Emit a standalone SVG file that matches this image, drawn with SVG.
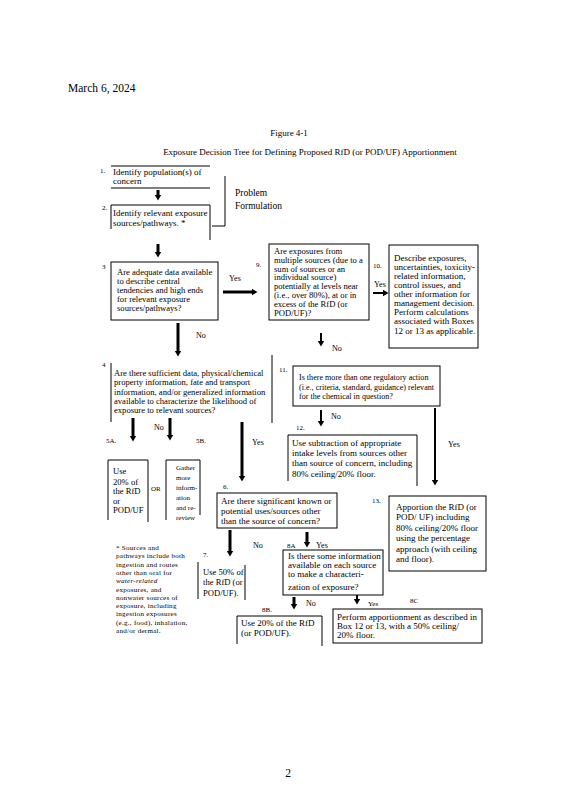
<svg xmlns="http://www.w3.org/2000/svg" width="566" height="800" viewBox="0 0 566 800">
<style>
text{font-family:"Liberation Serif","Times New Roman",serif;fill:#000;}
.t{font-size:9px;}
.m{font-size:8.6px;}
.n{font-size:8.1px;}
.s{font-size:7px;}
.f{font-size:7.1px;letter-spacing:0.25px;}
.ln{stroke:#000;stroke-width:1;fill:none;}
.ar{stroke:#000;stroke-width:3;fill:none;marker-end:url(#ah);}
.ar2{stroke:#000;stroke-width:2;fill:none;marker-end:url(#ah);}
</style>
<defs>
<marker id="ah" markerUnits="userSpaceOnUse" markerWidth="8" markerHeight="8" refX="0.5" refY="3.5" orient="auto"><path d="M0,0 L6,3.5 L0,7 z" fill="#000"/></marker>
</defs>
<rect width="566" height="800" fill="#fff"/>
<text x="68" y="92" style="font-size:11.5px">March 6, 2024</text>
<text x="289" y="136" text-anchor="middle" style="font-size:9px">Figure 4-1</text>
<text x="310" y="155" text-anchor="middle" style="font-size:9px">Exposure Decision Tree for Defining Proposed RfD (or POD/UF) Apportionment</text>
<text x="288" y="777" text-anchor="middle" style="font-size:11.5px">2</text>

<g id="connectors">
<line class="ar" x1="158" y1="190" x2="158" y2="195"/>
<line class="ar" x1="158" y1="244" x2="158" y2="252"/>
<line class="ar" x1="223" y1="292" x2="252" y2="292"/>
<line class="ar2" x1="373" y1="293" x2="383" y2="293"/>
<line class="ar2" x1="321" y1="333" x2="321" y2="341"/>
<line class="ar" x1="178" y1="323" x2="178" y2="351"/>
<line class="ar2" x1="321" y1="410" x2="321" y2="421"/>
<line class="ar2" x1="435" y1="408" x2="435" y2="480"/>
<line class="ar" x1="133" y1="418" x2="133" y2="436"/>
<line class="ar" x1="170" y1="418" x2="170" y2="435"/>
<line class="ar" x1="242" y1="422" x2="242" y2="476"/>
<line class="ar" x1="230" y1="530" x2="230" y2="551"/>
<line class="ar" x1="307" y1="532" x2="307" y2="542"/>
<line class="ar" x1="294" y1="597" x2="294" y2="604"/>
<line class="ar2" x1="357" y1="595" x2="357" y2="599"/>
<polyline class="ln" points="212,226 225,226 225,176"/>
</g>

<g id="box1">
<line class="ln" x1="111" y1="166" x2="210" y2="166"/>
<line class="ln" x1="111" y1="188" x2="210" y2="188"/>
<text x="100" y="173" class="s">1.</text>
<text x="113" y="175" class="t">Identify population(s) of</text>
<text x="113" y="184" class="t">concern</text>
</g>

<g id="box2">
<polyline class="ln" points="111,229 111,205 210,205 210,240"/>
<text x="102" y="210" class="s">2.</text>
<text x="113" y="216" class="t">Identify relevant exposure</text>
<text x="113" y="226" class="t">sources/pathways. *</text>
</g>

<g id="problem">
<text x="235" y="196" style="font-size:9.5px">Problem</text>
<text x="235" y="209" style="font-size:9.5px">Formulation</text>
</g>

<g id="box3">
<rect class="ln" x="111" y="262" width="107" height="58"/>
<text x="102" y="269" class="s">3</text>
<text x="117" y="275" class="m">Are adequate data available</text>
<text x="117" y="284" class="m">to describe central</text>
<text x="117" y="293" class="m">tendencies and high ends</text>
<text x="117" y="302" class="m">for relevant exposure</text>
<text x="117" y="311" class="m">sources/pathways?</text>
<text x="229" y="281" class="n">Yes</text>
<text x="196" y="338" class="n">No</text>
</g>

<g id="box9">
<rect class="ln" x="269" y="244" width="100" height="76"/>
<text x="256" y="267" class="s">9.</text>
<text x="274" y="254" class="m">Are exposures from</text>
<text x="274" y="262.8" class="m">multiple sources (due to a</text>
<text x="274" y="271.6" class="m">sum of sources or an</text>
<text x="274" y="280.4" class="m">individual source)</text>
<text x="274" y="289.2" class="m">potentially at levels near</text>
<text x="274" y="298" class="m">(i.e., over 80%), at or in</text>
<text x="274" y="306.8" class="m">excess of the RfD (or</text>
<text x="274" y="315.6" class="m">POD/UF)?</text>
<text x="332" y="351" class="n">No</text>
</g>

<g id="box10">
<rect class="ln" x="389" y="245" width="89" height="103"/>
<text x="373" y="268" class="s">10.</text>
<text x="374" y="287" class="n">Yes</text>
<text x="394" y="261" class="t">Describe exposures,</text>
<text x="394" y="270" class="t">uncertainties, toxicity-</text>
<text x="394" y="279" class="t">related information,</text>
<text x="394" y="288" class="t">control issues, and</text>
<text x="394" y="297" class="t">other information for</text>
<text x="394" y="306" class="t">management decision.</text>
<text x="394" y="315" class="t">Perform calculations</text>
<text x="394" y="324" class="t">associated with Boxes</text>
<text x="394" y="334" class="t">12 or 13 as applicable.</text>
</g>

<g id="box4">
<line class="ln" x1="111" y1="363" x2="111" y2="422"/>
<line class="ln" x1="272" y1="355" x2="272" y2="423"/>
<text x="102" y="367" class="s">4</text>
<text x="114" y="376" class="m">Are there sufficient data, physical/chemical</text>
<text x="114" y="385" class="m">property information, fate and transport</text>
<text x="114" y="395" class="m">information, and/or generalized information</text>
<text x="114" y="404" class="m">available to characterize the likelihood of</text>
<text x="114" y="413" class="m">exposure to relevant sources?</text>
<text x="154" y="430" class="n">No</text>
<text x="106" y="443" class="s">5A.</text>
<text x="196" y="443" class="s">5B.</text>
<text x="252" y="445" class="n">Yes</text>
</g>

<g id="box11">
<rect class="ln" x="293" y="366" width="147" height="40"/>
<text x="279" y="372" class="s">11.</text>
<text x="299" y="380" class="n">Is there more than one regulatory action</text>
<text x="299" y="390" class="n">(i.e., criteria, standard, guidance) relevant</text>
<text x="299" y="399" class="n">for the chemical in question?</text>
<text x="331" y="419" class="n">No</text>
<text x="448" y="447" class="n">Yes</text>
</g>

<g id="box12">
<polyline class="ln" points="288,481 288,435 417,435 417,486"/>
<text x="296" y="430" class="s">12.</text>
<text x="292" y="446" class="t">Use subtraction of appropriate</text>
<text x="292" y="456" class="t">intake levels from sources other</text>
<text x="292" y="466" class="t">than source of concern, including</text>
<text x="292" y="477" class="t">80% ceiling/20% floor.</text>
</g>

<g id="box13">
<rect class="ln" x="389" y="496" width="97" height="75"/>
<text x="372" y="503" class="s">13.</text>
<text x="396" y="510" class="t">Apportion the RfD (or</text>
<text x="396" y="520" class="t">POD/ UF) including</text>
<text x="396" y="531" class="t">80% ceiling/20% floor</text>
<text x="396" y="541" class="t">using the percentage</text>
<text x="396" y="552" class="t">approach (with ceiling</text>
<text x="396" y="562" class="t">and floor).</text>
</g>

<g id="box5A">
<polyline class="ln" points="108,520 108,460 148,460 148,522"/>
<text x="113" y="474" class="m">Use</text>
<text x="113" y="485" class="m">20% of</text>
<text x="113" y="494" class="m">the RfD</text>
<text x="113" y="504" class="m">or</text>
<text x="113" y="513" class="m">POD/UF</text>
<text x="151" y="491" class="s">OR</text>
</g>

<g id="box5B">
<polyline class="ln" points="166,520 166,460 200,460 200,515"/>
<text x="176" y="470" class="s">Gather</text>
<text x="176" y="480" class="s">more</text>
<text x="176" y="490" class="s">inform-</text>
<text x="176" y="500" class="s">ation</text>
<text x="176" y="510" class="s">and re-</text>
<text x="176" y="520" class="s">review</text>
</g>

<g id="box6">
<rect class="ln" x="217" y="493" width="120" height="35"/>
<text x="223" y="489" class="s">6.</text>
<text x="221" y="504" class="t">Are there significant known or</text>
<text x="221" y="514" class="t">potential uses/sources other</text>
<text x="221" y="524" class="t">than the source of concern?</text>
<text x="253" y="548" class="n">No</text>
<text x="287" y="548" class="s">8A</text>
<text x="316" y="548" class="n">Yes</text>
</g>

<g id="box7">
<line class="ln" x1="198" y1="562" x2="198" y2="599"/>
<line class="ln" x1="245" y1="565" x2="245" y2="600"/>
<text x="203" y="557" class="s">7.</text>
<text x="203" y="575" class="m">Use 50% of</text>
<text x="203" y="585" class="m">the RfD (or</text>
<text x="203" y="596" class="m">POD/UF).</text>
</g>

<g id="box8A">
<rect class="ln" x="283" y="550" width="100" height="45"/>
<text x="288" y="559" class="t">Is there some information</text>
<text x="288" y="568" class="t">available on each source</text>
<text x="288" y="577" class="t">to make a characteri-</text>
<text x="288" y="590" class="t">zation of exposure?</text>
<text x="306" y="606" class="n">No</text>
<text x="368" y="606" class="s">Yes</text>
<text x="410" y="603" class="s">8C</text>
</g>

<g id="box8B">
<polyline class="ln" points="237,644 237,616 322,616 322,646"/>
<text x="262" y="612" class="s">8B.</text>
<text x="241" y="626" class="t">Use 20% of the RfD</text>
<text x="241" y="636" class="t">(or POD/UF).</text>
</g>

<g id="box8C">
<rect class="ln" x="333" y="609" width="149" height="34"/>
<text x="337" y="620" class="t">Perform apportionment as described in</text>
<text x="337" y="629" class="t">Box 12 or 13, with a 50% ceiling/</text>
<text x="337" y="638" class="t">20% floor.</text>
</g>

<g id="footnote">
<text x="116" y="550" class="f">* Sources and</text>
<text x="116" y="558.3" class="f">pathways include both</text>
<text x="116" y="566.6" class="f">ingestion and routes</text>
<text x="116" y="574.9" class="f">other than oral for</text>
<text x="116" y="583.2" class="f" font-style="italic">water-related</text>
<text x="116" y="591.5" class="f">exposures, and</text>
<text x="116" y="599.8" class="f">nonwater sources of</text>
<text x="116" y="608.1" class="f">exposure, including</text>
<text x="116" y="616.4" class="f">ingestion exposures</text>
<text x="116" y="624.7" class="f">(e.g., food), inhalation,</text>
<text x="116" y="633" class="f">and/or dermal.</text>
</g>
</svg>
